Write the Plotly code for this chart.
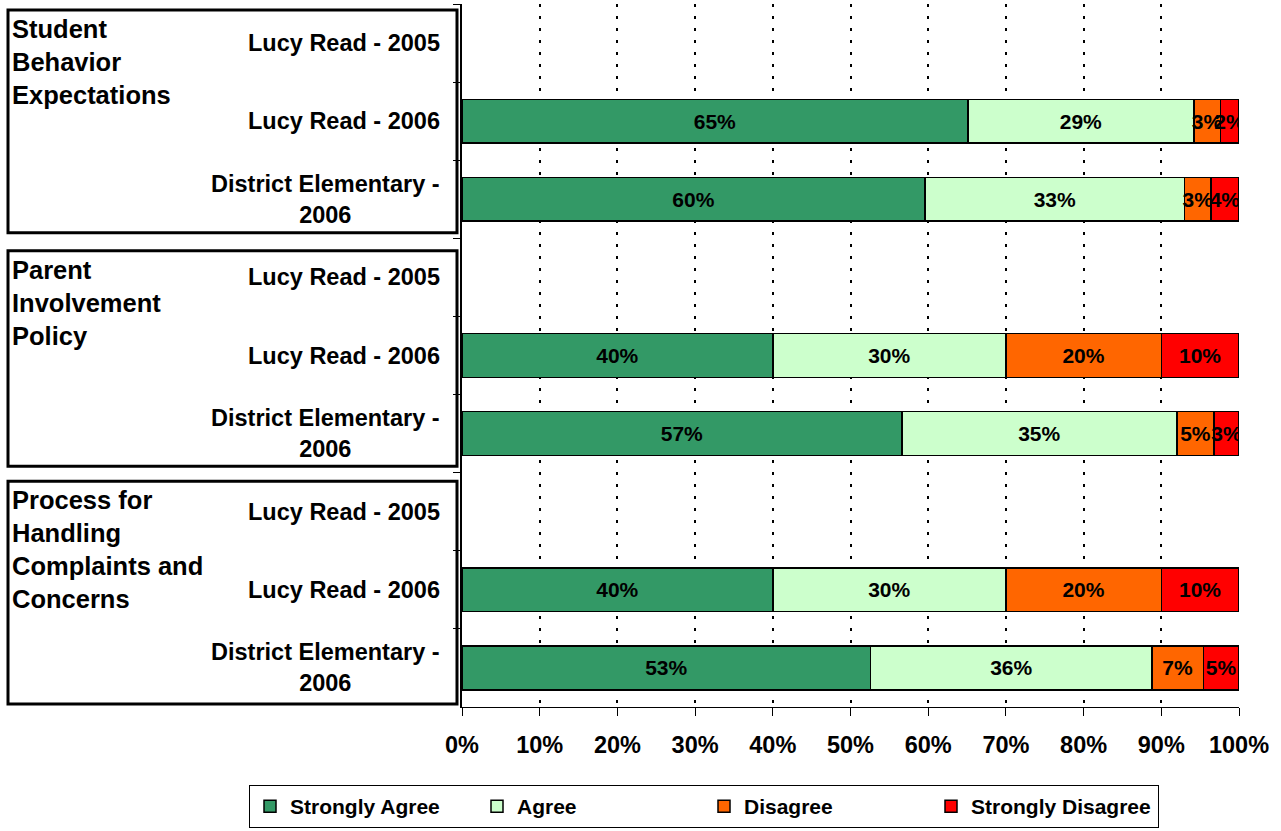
import plotly.graph_objects as go

# ---- data ----
row_ids = ["SBE|LR2005", "SBE|LR2006", "SBE|DE2006",
           "PIP|LR2005", "PIP|LR2006", "PIP|DE2006",
           "PHC|LR2005", "PHC|LR2006", "PHC|DE2006"]
row_labels = ["Lucy Read - 2005", "Lucy Read - 2006", "District Elementary -<br>2006"] * 3
group_labels = ["Student<br>Behavior<br>Expectations",
                "Parent<br>Involvement<br>Policy",
                "Process for<br>Handling<br>Complaints and<br>Concerns"]

strongly_agree    = [None, 65.1, 59.6, None, 40, 56.6, None, 40, 52.6]
agree             = [None, 29.1, 33.4, None, 30, 35.4, None, 30, 36.2]
disagree          = [None, 3.4, 3.4, None, 20, 4.8, None, 20, 6.6]
strongly_disagree = [None, 2.4, 3.6, None, 10, 3.2, None, 10, 4.6]

series_names = ["Strongly Agree", "Agree", "Disagree", "Strongly Disagree"]
series_values = [strongly_agree, agree, disagree, strongly_disagree]
series_colors = ["#339966", "#CCFFCC", "#FF6600", "#FF0000"]

x_ticks = list(range(0, 101, 10))
x_tick_labels = [f"{v}%" for v in x_ticks]

FONT = "Liberation Sans, Arial, sans-serif"

fig = go.Figure()
for name, vals, col in zip(series_names, series_values, series_colors):
    fig.add_trace(go.Bar(
        y=row_ids, x=vals, name=name, orientation="h",
        marker=dict(color=col, line=dict(color="black", width=1.5)),
        texttemplate="%{x:.0f}%", textposition="inside",
        insidetextanchor="middle", textangle=0, constraintext="none",
        textfont=dict(family=FONT, size=21, color="black", weight="bold"),
        width=0.56,
    ))

# category labels (centered multi-line, right anchored)
for rid, lab in zip(row_ids, row_labels):
    fig.add_annotation(x=0, xref="x", y=rid, yref="y", text="<b>" + lab + "</b>",
                       showarrow=False, xanchor="right", xshift=-20, align="center",
                       font=dict(family=FONT, size=23.5, color="black"))

# group boxes and labels
PW, PH = 777.0, 704.0
def px_x(p):
    return (p - 462) / PW
def px_y(p):
    return (708 - p) / PH

boxes = [(10, 233), (251, 467), (482, 705)]
for (top, bot), glab in zip(boxes, group_labels):
    fig.add_shape(type="rect", xref="paper", yref="paper",
                  x0=px_x(8), x1=px_x(457), y0=px_y(bot), y1=px_y(top),
                  line=dict(color="black", width=3), fillcolor="rgba(0,0,0,0)")
    fig.add_annotation(xref="paper", yref="paper", x=px_x(10), y=px_y(top + 3),
                       xanchor="left", yanchor="top", align="left", showarrow=False,
                       text="<b>" + glab + "</b>",
                       font=dict(family=FONT, size=25.5, color="black"))

fig.update_layout(
    barmode="stack",
    width=1281, height=831,
    margin=dict(l=462, r=42, t=4, b=123),
    paper_bgcolor="white", plot_bgcolor="white",
    font=dict(family=FONT, color="black"),
    showlegend=True,
    legend=dict(orientation="h", xref="paper", yref="paper",
                x=px_x(249), xanchor="left", y=px_y(785), yanchor="top",
                bordercolor="black", borderwidth=1,
                font=dict(family=FONT, size=21, color="black", weight="bold"),
                traceorder="normal", entrywidth=182, entrywidthmode="pixels"),
    xaxis=dict(range=[0, 100], tickvals=x_ticks, ticktext=x_tick_labels,
               ticks="outside", ticklen=8, tickcolor="black", tickwidth=1,
               showline=True, linecolor="black", linewidth=1,
               showgrid=True, gridcolor="black", gridwidth=2, griddash="3px,9px",
               zeroline=False, ticklabelstandoff=9,
               tickfont=dict(family=FONT, size=23.5, color="black", weight="bold")),
    yaxis=dict(type="category", categoryorder="array", categoryarray=row_ids,
               range=[8.5, -0.5], showticklabels=False,
               ticks="outside", ticklen=7, tickcolor="black", tickson="boundaries",
               showline=True, linecolor="black", linewidth=1.5,
               showgrid=False, zeroline=False),
)

fig.write_html("out.html", config={"displayModeBar": False},
               post_script="document.body.style.margin='0px';")
